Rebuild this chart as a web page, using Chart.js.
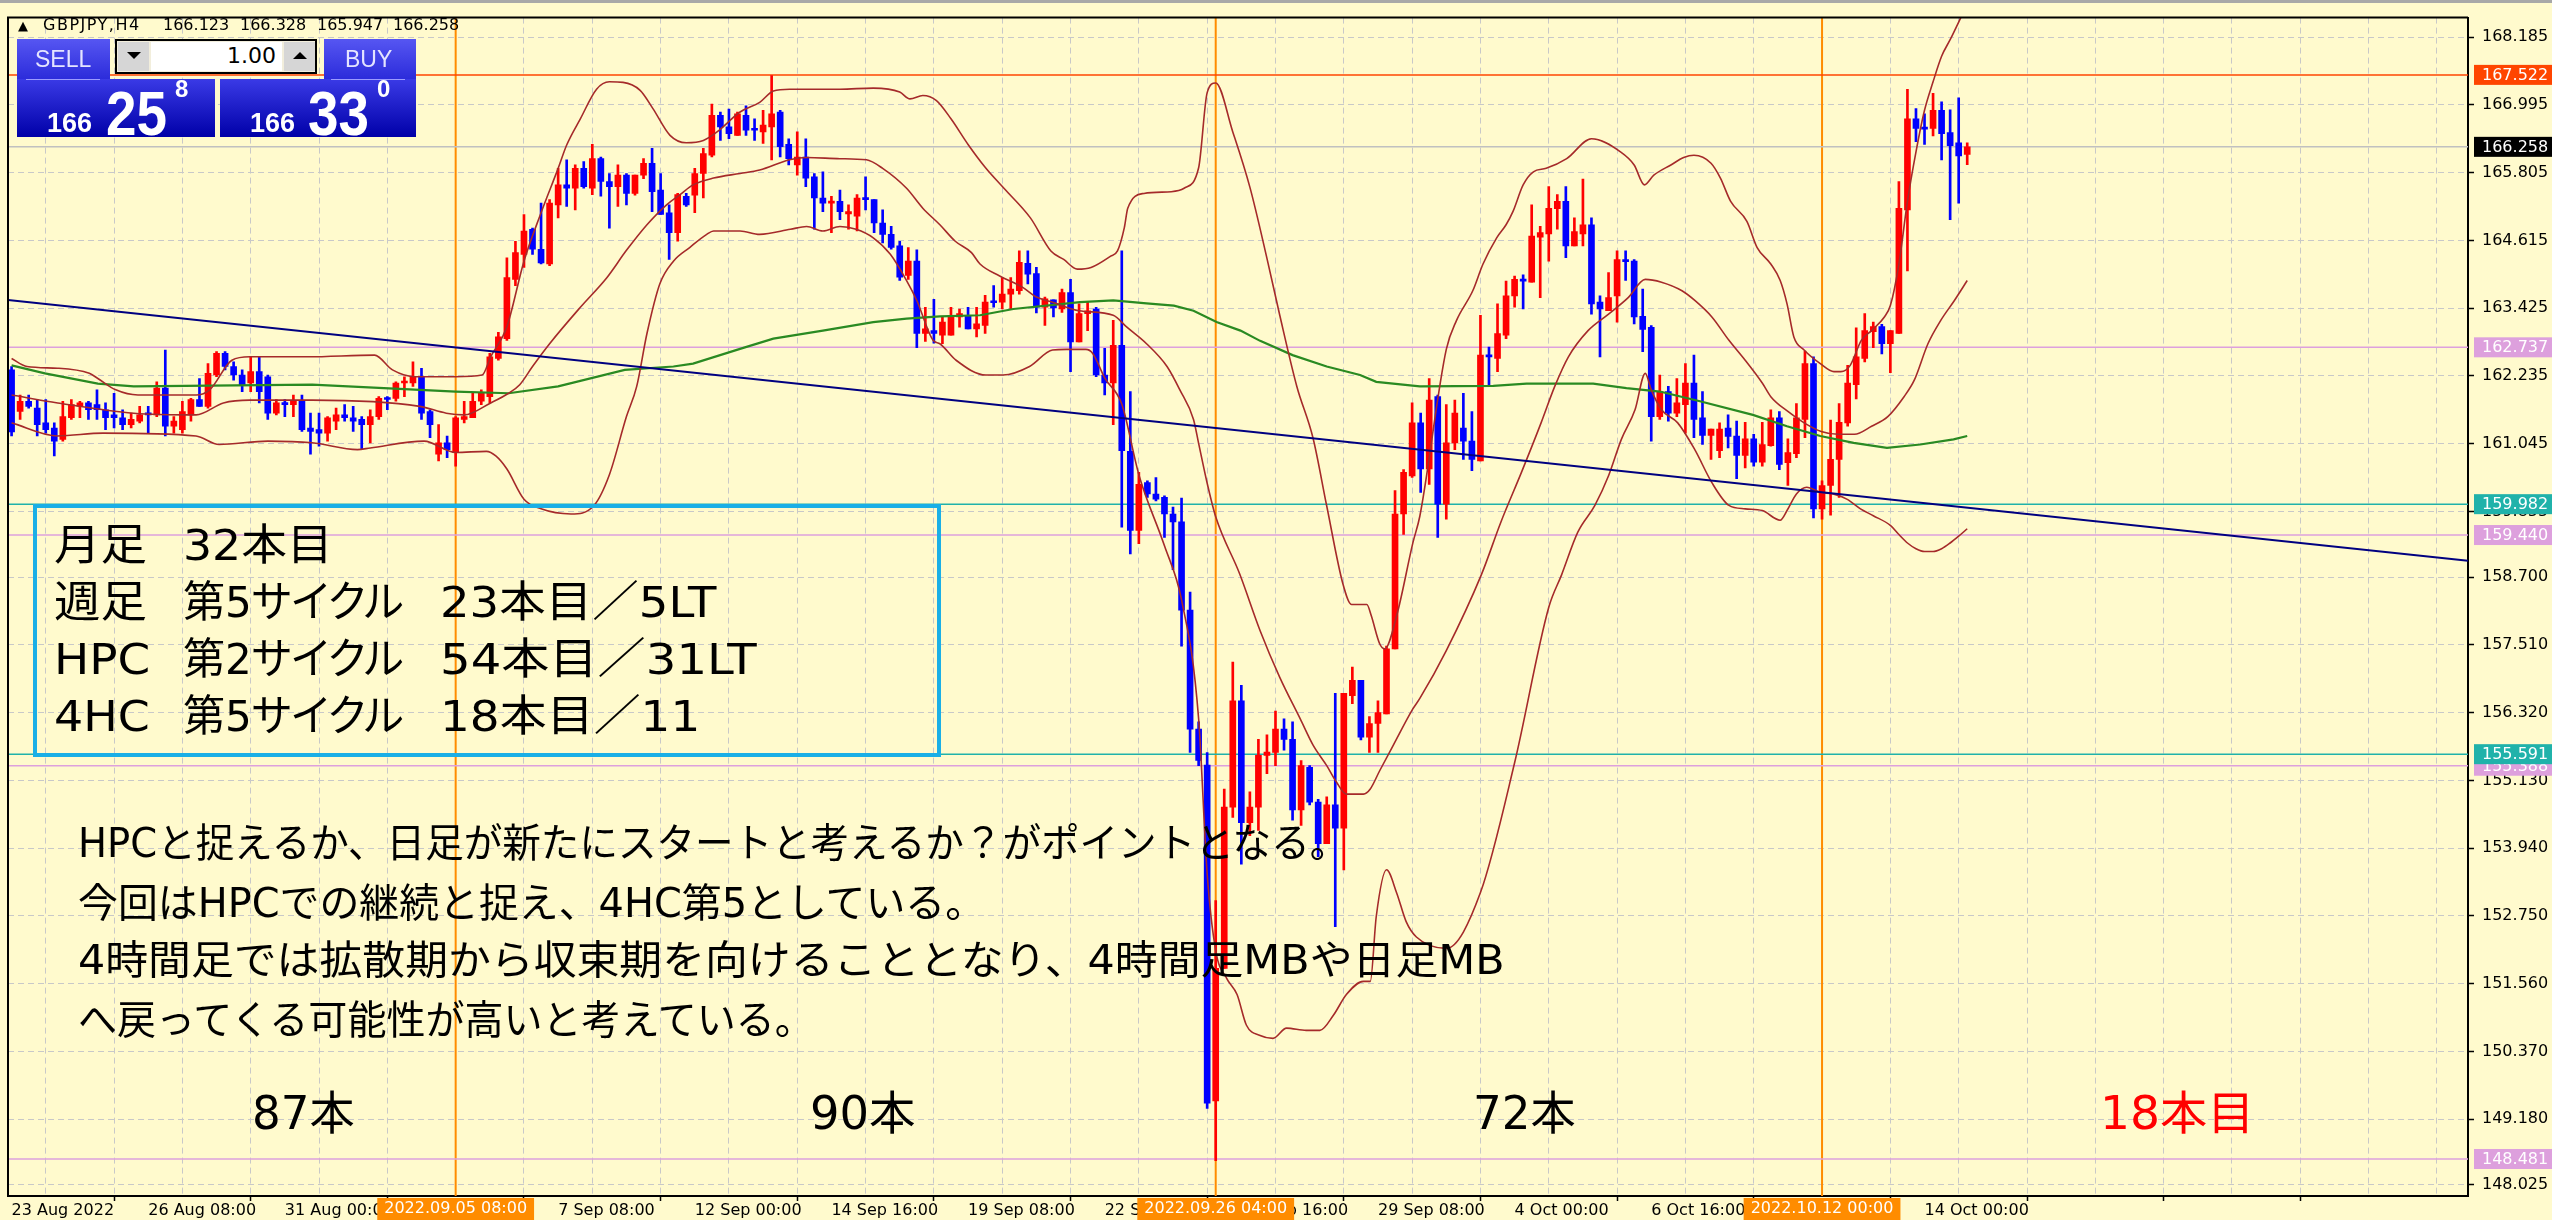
<!DOCTYPE html>
<html>
<head>
<meta charset="utf-8">
<script src="https://cdn.jsdelivr.net/npm/chart.js@4.4.1/dist/chart.umd.min.js"></script>
<style>
  html, body { margin: 0; padding: 0; background: #FFFACD; }
  #wrap { position: relative; width: 2552px; height: 1220px; overflow: hidden; background: #FFFACD; }
  #chart { position: absolute; left: 0; top: 0; }
  .ov { position: absolute; white-space: nowrap; line-height: 1; }
  .hdr { font-family: "DejaVu Sans", sans-serif; font-size: 16px; color: #000; top: 17px; }
  .tab { position: absolute; background: linear-gradient(#5656F2, #2B2BDA); }
  .pricebox { position: absolute; background: linear-gradient(#3A3AE6, #0000A8); }
  .sep { position: absolute; height: 1px; background: #9C9CFF; }
  .btnlbl { font-family: "Liberation Sans", sans-serif; font-size: 23px; color: #E4E4FF; }
  .big { font-family: "Liberation Sans", sans-serif; font-weight: bold; color: #fff; }
  .jp { font-family: "DejaVu Sans", "Noto Sans CJK JP", sans-serif; color: #000; transform-origin: 0 0; }
  .pk { font-feature-settings: "palt"; }
</style>
</head>
<body>
<div id="wrap">
  <canvas id="chart" width="2552" height="1220"></canvas>
  <div style="position:absolute;left:0;top:0;width:2552px;height:3px;background:#A8A8A8;"></div>

  <!-- header line -->
  <div class="ov hdr" style="left:18px;font-size:13px;top:19px;">▲</div>
  <div class="ov hdr" style="left:43px;letter-spacing:1.5px;">GBPJPY,H4</div>
  <div class="ov hdr" style="left:163px;">166.123</div>
  <div class="ov hdr" style="left:240px;">166.328</div>
  <div class="ov hdr" style="left:317px;">165.947</div>
  <div class="ov hdr" style="left:393px;">166.258</div>

  <!-- one click trading panel -->
  <div class="tab" style="left:17px;top:39px;width:93px;height:41px;"></div>
  <div class="pricebox" style="left:17px;top:79px;width:198px;height:58px;"></div>
  <div class="sep" style="left:26px;top:79px;width:74px;"></div>
  <div class="ov btnlbl" style="left:35px;top:48px;">SELL</div>
  <div class="ov big" style="left:47px;top:110px;font-size:27px;">166</div>
  <div class="ov big" style="left:106px;top:82px;font-size:63px;transform:scaleX(0.87);transform-origin:0 0;">25</div>
  <div class="ov big" style="left:175px;top:77px;font-size:24px;">8</div>

  <div class="tab" style="left:324px;top:39px;width:92px;height:41px;"></div>
  <div class="pricebox" style="left:220px;top:79px;width:196px;height:58px;"></div>
  <div class="sep" style="left:331px;top:79px;width:74px;"></div>
  <div class="ov btnlbl" style="left:345px;top:48px;">BUY</div>
  <div class="ov big" style="left:250px;top:110px;font-size:27px;">166</div>
  <div class="ov big" style="left:308px;top:82px;font-size:63px;transform:scaleX(0.87);transform-origin:0 0;">33</div>
  <div class="ov big" style="left:377px;top:77px;font-size:24px;">0</div>

  <div style="position:absolute;left:115px;top:39px;width:198px;height:31px;border:2px solid #000;background:#F2EEDC;"></div>
  <div style="position:absolute;left:118px;top:42px;width:31px;height:29px;background:#D6D6D6;"></div>
  <div style="position:absolute;left:127px;top:52px;width:0;height:0;border-left:7px solid transparent;border-right:7px solid transparent;border-top:7px solid #000;"></div>
  <div style="position:absolute;left:151px;top:42px;width:131px;height:29px;background:#fff;"></div>
  <div style="position:absolute;left:284px;top:42px;width:31px;height:29px;background:#D6D6D6;"></div>
  <div style="position:absolute;left:293px;top:52px;width:0;height:0;border-left:7px solid transparent;border-right:7px solid transparent;border-bottom:7px solid #000;"></div>
  <div class="ov" style="left:151px;width:125px;top:45px;text-align:right;font-family:'DejaVu Sans',sans-serif;font-size:22px;color:#000;">1.00</div>

  <!-- cycle count box -->
  <div style="position:absolute;left:33px;top:504px;width:900px;height:245px;border:4px solid #1AAFE6;"></div>
  <div class="ov jp pk" data-w="93"  style="left:54px;top:524px;font-size:43px;">月足</div>
  <div class="ov jp pk" data-w="150" style="left:183px;top:524px;font-size:43px;">32本目</div>
  <div class="ov jp pk" data-w="93"  style="left:54px;top:581px;font-size:43px;">週足</div>
  <div class="ov jp pk" data-w="221" style="left:183px;top:581px;font-size:43px;">第5サイクル</div>
  <div class="ov jp pk" data-w="276" style="left:440px;top:581px;font-size:43px;">23本目／5LT</div>
  <div class="ov jp pk" data-w="96"  style="left:54px;top:638px;font-size:43px;">HPC</div>
  <div class="ov jp pk" data-w="221" style="left:183px;top:638px;font-size:43px;">第2サイクル</div>
  <div class="ov jp pk" data-w="317" style="left:440px;top:638px;font-size:43px;">54本目／31LT</div>
  <div class="ov jp pk" data-w="96"  style="left:54px;top:695px;font-size:43px;">4HC</div>
  <div class="ov jp pk" data-w="221" style="left:183px;top:695px;font-size:43px;">第5サイクル</div>
  <div class="ov jp pk" data-w="260" style="left:440px;top:695px;font-size:43px;">18本目／11</div>

  <!-- comments -->
  <div class="ov jp" data-w="1270" style="left:78px;top:823px;font-size:40px;">HPCと捉えるか、日足が新たにスタートと考えるか？がポイントとなる。</div>
  <div class="ov jp" data-w="907"  style="left:78px;top:883px;font-size:40px;">今回はHPCでの継続と捉え、4HC第5としている。</div>
  <div class="ov jp" data-w="1427" style="left:78px;top:940px;font-size:40px;">4時間足では拡散期から収束期を向けることとなり、4時間足MBや日足MB</div>
  <div class="ov jp" data-w="736"  style="left:78px;top:1000px;font-size:40px;">へ戻ってくる可能性が高いと考えている。</div>

  <div class="ov jp" data-w="103" style="left:252px;top:1090px;font-size:46px;">87本</div>
  <div class="ov jp" data-w="106" style="left:810px;top:1090px;font-size:46px;">90本</div>
  <div class="ov jp" data-w="103" style="left:1473px;top:1090px;font-size:46px;">72本</div>
  <div class="ov jp" data-w="155" style="left:2100px;top:1090px;font-size:46px;color:#FF0000;">18本目</div>
</div>

<script>
// GBPJPY H4, bar 0 = 23 Aug 2022 16:00, last bar = 14 Oct 2022 20:00
const opens = [
  162.34,161.61,161.79,161.67,161.41,161.32,161.12,161.50,161.70,161.76,
  161.73,161.64,161.55,161.50,161.38,161.44,161.58,161.55,162.02,161.35,
  161.29,161.55,161.82,161.70,162.25,162.63,162.40,162.25,162.11,162.31,
  162.22,161.58,161.76,161.73,161.79,161.32,161.29,161.23,161.44,161.55,
  161.50,161.47,161.38,161.52,161.84,161.84,162.11,162.11,162.22,161.61,
  160.86,161.06,160.89,161.47,161.50,161.79,161.87,162.54,162.89,163.93,
  164.37,164.81,164.46,164.20,165.24,165.59,165.53,165.88,165.53,166.05,
  165.65,165.56,165.76,165.44,165.76,165.97,165.50,165.10,164.75,165.39,
  165.41,165.79,166.11,166.81,166.61,166.46,166.81,166.58,166.52,166.61,
  166.87,166.30,165.94,166.08,165.73,165.36,165.27,165.30,165.08,165.04,
  165.36,165.33,164.92,164.72,164.52,164.00,164.25,162.98,163.03,162.95,
  162.95,163.27,163.30,163.06,163.12,163.54,163.53,163.67,163.73,164.21,
  164.03,163.44,163.57,163.41,163.70,162.83,163.33,163.41,162.25,162.11,
  162.77,160.91,159.52,160.36,160.16,160.10,159.81,159.67,158.12,156.03,
  155.40,149.50,151.83,154.66,156.53,154.39,154.66,155.57,155.62,156.03,
  155.85,154.61,155.36,154.75,154.02,154.70,154.29,156.62,156.89,155.89,
  156.13,156.30,157.44,159.81,160.48,161.41,160.60,161.87,159.98,161.06,
  161.32,161.09,160.74,162.60,162.54,162.95,163.64,163.93,163.88,164.67,
  164.73,165.17,165.30,164.52,164.73,164.89,163.53,163.38,163.64,164.28,
  164.25,163.28,163.09,161.52,161.96,161.58,161.73,162.11,161.50,161.19,
  160.92,161.32,161.18,160.84,161.13,160.72,161.01,161.50,160.71,160.87,
  161.47,162.45,159.90,160.31,160.77,161.41,162.08,162.54,163.01,163.10,
  162.80,162.98,165.15,166.75,166.59,166.58,166.90,166.51,166.33,166.123
];
const highs = [
  162.40,161.90,161.90,161.82,161.82,161.41,161.79,161.82,161.79,161.79,
  161.99,161.76,161.93,161.64,161.58,161.70,161.70,162.13,162.69,161.52,
  161.79,161.84,162.19,162.45,162.66,162.66,162.48,162.34,162.57,162.57,
  162.25,161.82,161.82,161.90,161.90,161.58,161.58,161.52,161.67,161.73,
  161.70,161.52,161.64,161.87,161.87,162.13,162.22,162.48,162.37,161.64,
  161.38,161.18,161.52,161.79,161.93,161.99,162.63,163.00,164.31,164.60,
  165.07,164.83,165.27,165.33,165.88,166.03,165.94,166.00,166.30,166.08,
  165.79,165.94,165.79,165.76,166.05,166.23,165.79,165.24,165.44,165.44,
  165.88,166.23,167.01,166.87,166.92,166.87,166.98,166.75,166.90,167.51,
  166.90,166.40,166.52,166.40,165.79,165.82,165.39,165.50,165.24,165.42,
  165.73,165.33,165.15,164.86,164.60,164.49,164.45,163.44,163.58,163.27,
  163.44,163.41,163.44,163.44,163.65,163.82,163.96,163.96,164.43,164.43,
  164.14,163.62,163.57,163.76,163.93,163.50,163.53,163.44,162.72,163.21,
  164.43,161.96,160.54,160.39,160.45,160.13,159.93,160.09,158.44,156.16,
  155.62,153.02,154.98,157.21,156.80,154.93,155.85,155.93,156.35,156.21,
  156.16,155.48,155.39,154.80,154.84,156.66,156.66,157.12,156.89,156.25,
  156.53,157.49,160.22,160.59,161.76,161.58,162.19,161.90,161.73,161.81,
  161.93,161.61,163.30,162.74,163.50,163.90,163.99,164.01,165.24,164.86,
  165.56,165.42,165.56,165.01,165.69,165.01,163.64,164.05,164.43,164.43,
  164.28,163.76,163.12,162.25,162.05,162.19,162.45,162.60,161.96,161.30,
  161.41,161.55,161.44,161.42,161.21,161.42,161.64,161.61,161.13,161.75,
  162.67,162.57,160.39,161.46,161.75,162.42,163.08,163.33,163.18,163.14,
  163.03,165.65,167.27,166.93,166.84,167.20,167.05,166.91,167.12,166.328
];
const lows = [
  161.18,161.47,161.67,161.18,161.23,160.83,161.09,161.47,161.50,161.47,
  161.47,161.29,161.32,161.29,161.32,161.41,161.23,161.52,161.18,161.23,
  161.23,161.44,161.70,161.67,162.22,162.34,162.16,161.96,161.96,161.76,
  161.47,161.55,161.52,161.52,161.26,160.86,161.00,161.09,161.29,161.44,
  161.26,160.94,161.06,161.47,161.64,161.79,161.87,162.05,161.47,161.15,
  160.74,160.80,160.65,161.41,161.50,161.73,161.76,162.51,162.86,163.82,
  164.14,164.37,164.20,164.17,165.01,165.21,165.15,165.53,165.42,165.39,
  164.83,165.21,165.24,165.41,165.70,165.12,165.07,164.28,164.60,165.21,
  165.10,165.36,166.08,166.37,166.40,166.46,166.46,166.37,166.32,166.03,
  166.08,165.94,165.76,165.56,164.81,165.12,164.75,164.98,164.81,164.78,
  165.15,164.75,164.57,164.46,163.91,163.93,162.73,162.84,162.81,162.80,
  162.95,163.09,163.06,162.92,162.98,163.44,163.41,163.41,163.67,163.85,
  163.34,163.12,163.27,163.35,162.31,162.83,163.03,162.22,161.90,161.38,
  159.58,159.11,159.29,160.10,160.04,159.40,158.83,157.49,155.62,155.39,
  149.37,148.45,151.83,154.48,153.66,154.16,154.25,155.25,155.39,155.66,
  154.43,154.34,154.70,153.79,154.02,152.56,153.56,156.48,155.84,155.62,
  155.62,156.30,157.44,159.45,160.45,160.19,160.33,159.40,159.72,160.94,
  160.77,160.57,160.74,162.08,162.31,162.89,163.44,163.41,163.88,163.61,
  164.25,164.81,164.31,164.52,164.52,163.32,162.57,163.38,163.18,163.91,
  163.15,162.66,161.09,161.47,161.44,161.52,161.23,161.15,161.03,160.77,
  160.80,160.97,160.43,160.62,160.65,160.65,161.00,160.59,160.31,160.80,
  161.15,159.74,159.72,159.79,160.10,161.35,161.83,162.48,162.73,162.62,
  162.29,162.98,164.08,166.35,166.30,166.45,166.03,164.98,165.27,165.947
];
const closes = [
  161.25,161.79,161.70,161.38,161.29,161.09,161.52,161.73,161.76,161.64,
  161.64,161.50,161.50,161.38,161.47,161.55,161.55,162.02,161.35,161.44,
  161.61,161.82,161.70,162.28,162.63,162.40,162.25,162.08,162.31,161.96,
  161.58,161.76,161.73,161.79,161.29,161.26,161.23,161.50,161.55,161.50,
  161.44,161.38,161.52,161.84,161.82,162.11,162.13,162.22,161.58,161.38,
  161.06,160.94,161.50,161.52,161.79,161.93,162.57,162.92,163.96,164.40,
  164.78,164.46,164.22,165.27,165.59,165.53,165.88,165.56,166.05,165.65,
  165.56,165.76,165.44,165.76,165.97,165.47,165.07,164.75,165.42,165.24,
  165.79,166.14,166.81,166.61,166.49,166.84,166.55,166.55,166.64,166.84,
  166.26,166.05,166.08,165.71,165.36,165.27,165.30,165.12,165.12,165.36,
  165.33,164.92,164.72,164.49,163.97,164.25,162.98,163.06,162.98,163.18,
  163.30,163.33,163.06,163.15,163.53,163.52,163.67,163.76,164.23,164.02,
  163.44,163.59,163.43,163.70,162.83,163.33,163.38,162.25,162.11,162.77,
  160.92,159.52,160.33,160.16,160.07,159.81,159.67,158.12,156.03,155.48,
  149.46,151.83,154.66,156.53,154.39,154.66,155.57,155.63,156.03,155.85,
  154.61,155.39,154.75,154.02,154.70,154.29,156.66,156.89,155.89,156.13,
  156.32,157.44,159.81,160.54,161.41,160.60,161.81,159.98,161.06,161.58,
  161.09,160.77,162.60,162.57,162.98,163.64,163.93,163.90,164.69,164.75,
  165.18,165.30,164.52,164.77,164.89,163.50,163.41,163.61,164.28,164.24,
  163.27,163.05,161.52,161.96,161.58,161.76,162.11,161.47,161.19,161.30,
  161.30,161.17,160.84,161.13,160.72,161.03,161.50,160.68,160.89,161.50,
  162.45,159.90,160.31,160.77,161.42,162.11,162.57,163.03,163.10,162.80,
  163.03,165.18,166.75,166.58,166.57,166.90,166.49,166.28,166.10,166.258
];

// x tick labels every 16 bars
const timeLabels = ['23 Aug 2022','26 Aug 08:00','31 Aug 00:00','2 Sep 16:00','7 Sep 08:00',
  '12 Sep 00:00','14 Sep 16:00','19 Sep 08:00','22 Sep 00:00','26 Sep 16:00','29 Sep 08:00',
  '4 Oct 00:00','6 Oct 16:00','11 Oct 08:00','14 Oct 00:00'];
const yTickValues = [168.185,166.995,165.805,164.615,163.425,162.235,161.045,159.855,158.700,
  157.510,156.320,155.130,153.940,152.750,151.560,150.370,149.180,148.025];

// 4H Bollinger band lines (bar position, price)
const upperX = [0,1.8,5.4,9.1,10.1,12.2,14.8,21.6,23.2,25.8,27.9,34.7,42.5,44.6,47.3,52,55.1,56.1,58,60,62,64,65,66.6,68.5,70,71.6,73.6,75.1,77.1,79,81,82.6,85.3,87.6,89.2,91.1,97,100.9,104,105.2,106.7,108.3,110,112,114,116.2,119.3,121.7,123.2,124.8,126.4,128.7,129.5,130.3,130.7,132.6,135.8,137.3,139,140,141,143,145,147,148.5,150.5,152.4,154,155.9,156.9,158.7,159.2,160.2,160.8,162.2,164.1,164.9,168,169.2,171.1,172.3,173.9,175,175.8,177,178.2,179.7,182.1,185,188.4,190,191.2,192.3,194.3,195.8,197,199,200.1,201.3,203.2,204.4,206,207.1,207.9,208.7,209.9,211.8,213.4,214.2,215.3,216.6,217.8,219.3,220,221,222,223,224,225,226,227,228,229];
const upperY = [162.54,162.40,162.37,162.28,162.19,161.99,161.90,161.90,161.99,162.51,162.57,162.57,162.60,162.34,162.22,162.22,162.25,162.57,163.10,164.25,165.10,165.88,166.29,166.75,167.27,167.40,167.39,167.25,166.93,166.46,166.33,166.37,166.52,166.87,167.04,167.24,167.27,167.27,167.29,167.22,167.10,167.16,167.07,166.75,166.30,165.90,165.53,165.01,164.43,164.28,164.11,164.14,164.34,164.43,164.84,165.18,165.44,165.47,165.53,165.89,167.21,167.38,166.52,165.55,164.30,163.30,162.05,161.14,159.95,158.58,158.22,158.22,158.03,157.53,157.44,158.03,159.31,159.77,162.70,163.21,163.73,164.20,164.66,164.89,165.12,165.59,165.82,165.88,166.05,166.40,166.17,165.94,165.59,165.76,165.94,166.07,166.11,165.97,165.71,165.30,164.95,164.49,164.20,163.91,163.50,162.92,162.69,162.45,162.31,162.31,162.42,162.86,163.03,163.27,163.47,164.20,165.30,166.17,166.90,167.40,167.85,168.14,168.45,168.77];
const middleX = [0,5.4,14.3,21.6,24.8,27.9,35.2,47.8,50.9,53,56.1,58.2,59.5,61,63,66.6,69.7,72,74.4,76.7,78.2,79.8,82.2,85.3,87.6,91.1,93.1,97,100.1,102,104.8,106.7,108.7,110.5,112.4,113.4,115.7,118.4,120,121.9,125,129,130.6,132.9,135.3,136.8,138.4,139,140,141,143.8,146.2,148.5,150.9,152.4,154,155.1,156.3,158.3,159.1,160.2,161.8,164.1,164.9,168,172.1,174.4,176.8,179.1,180.7,182.3,184.6,187,189.3,191.3,193.2,195.6,197.1,199.1,201.1,203,205,206,208,209.9,211.9,213.9,215.8,217.8,219.7,221.6,222.8,224.4,225.9,227.5,229];
const middleY = [161.90,161.76,161.58,161.55,161.76,161.81,161.81,161.70,161.58,161.55,161.76,161.93,162.08,162.40,162.80,163.44,163.96,164.44,164.89,165.24,165.41,165.59,165.71,165.79,165.85,166.03,166.07,166.05,166.03,165.88,165.53,165.18,164.89,164.60,164.40,164.20,163.99,163.79,163.62,163.53,163.38,163.30,163.09,162.80,162.40,161.99,161.47,161.05,160.35,159.76,158.76,157.76,156.94,156.21,155.75,155.39,155.11,154.89,154.89,154.98,155.30,155.75,156.39,156.57,157.41,158.74,159.67,160.54,161.41,162.05,162.57,163.03,163.32,163.61,163.93,163.88,163.73,163.56,163.27,162.86,162.51,162.11,161.87,161.61,161.41,161.26,161.21,161.21,161.35,161.52,161.87,162.16,162.80,163.21,163.56,163.91];
const lowerX = [0,5.4,10.7,21.6,24.3,30,35.2,40.5,42,48.3,52,55.6,56.7,58,60,62,65.5,68.2,70,72,73.2,74.4,75.9,77.5,79.4,81.4,82.2,85.3,87.6,91.2,93.1,95,97,98.9,100.9,102.9,104.8,106,107.9,108.7,110.6,114.1,116.1,119.2,121.9,123.5,125.8,126.6,128,130,132,135,137,139,140,141,142.3,143.5,144.6,146.2,147.7,149.3,151.6,153.2,154.8,156.3,158.3,159.1,159.8,161,162.2,163.3,164.5,168,172,176,180,181.5,183.4,185.4,187,188.5,190.1,191.3,192,193.2,195.1,197.1,199.1,201.1,203,205,207.1,207.9,209,210.2,211.8,213.3,214.9,216.5,218,220,221,222,223,224,225,226,227,228,229];
const lowerY = [161.41,161.18,161.23,161.18,161.03,161.09,161.06,160.94,160.97,161.09,160.89,160.91,160.83,160.60,160.07,159.90,159.81,159.96,160.50,161.52,162.05,162.98,163.85,164.25,164.49,164.72,164.78,164.78,164.72,164.81,164.86,164.78,164.86,164.81,164.66,164.37,163.91,163.56,162.86,162.80,162.51,162.25,162.25,162.40,162.69,162.70,162.70,162.63,162.20,161.74,160.50,159.25,158.30,156.21,153.49,152.14,151.65,151.37,150.83,150.65,150.60,150.78,150.74,150.74,151.01,151.37,151.60,151.60,152.74,153.56,153.15,152.65,152.38,152.18,153.16,155.44,158.17,158.74,159.49,159.96,160.48,161.12,161.64,162.28,161.99,161.64,161.41,160.94,160.36,159.96,159.90,159.87,159.70,159.87,160.16,160.28,160.19,160.16,160.07,159.90,159.78,159.61,159.45,159.30,159.20,159.15,159.15,159.20,159.30,159.42,159.55];
// daily middle band (green)
const dailyMbX = [0,3.9,10.1,14.3,35.2,52,58.2,64,71.8,77.5,79.8,85.3,89.2,95,100.9,104.8,108.7,113.4,117.3,125.1,129,132.9,136.1,138.4,141.1,143.9,146.2,150,154,157.9,159.8,164.9,173.5,177.4,185.2,189.1,193,197.7,203.9,207.9,211.8,215.7,219.6,223.5,227.4,229];
const dailyMbY = [162.42,162.28,162.10,162.05,162.08,161.96,161.93,162.05,162.34,162.40,162.45,162.71,162.89,163.03,163.18,163.24,163.28,163.30,163.41,163.53,163.56,163.51,163.47,163.38,163.18,163.03,162.85,162.60,162.40,162.25,162.13,162.05,162.06,162.10,162.10,162.02,161.96,161.79,161.55,161.35,161.18,161.06,160.97,161.03,161.12,161.18];
// trendline end points
const trendX = [-0.42, 287.64];
const trendY = [163.57, 158.99];

// horizontal price lines and their axis labels
const hLineValues = [155.388, 148.481, 162.737, 159.440, 167.522, 159.982, 155.591, 166.258];
const hLineColors = ['#DDA0DD','#DDA0DD','#DDA0DD','#DDA0DD','#FF4500','#20B2AA','#20B2AA','#C0C0C0'];
const hLabelBg    = ['#DDA0DD','#DDA0DD','#DDA0DD','#DDA0DD','#FF4500','#20B2AA','#20B2AA','#000000'];
// vertical period lines
const vLineBars = [52, 141, 212];
const vLineLabels = ['2022.09.05 08:00', '2022.09.26 04:00', '2022.10.12 00:00'];

const pts = (xs, ys) => xs.map((x, k) => ({ x: x, y: ys[k] }));
const idx = opens.map((_, i) => i);
const candleColors = idx.map(i => closes[i] >= opens[i] ? '#FF0000' : '#0000FF');

const datasets = [
  { type: 'line', data: pts(trendX, trendY), borderColor: '#000080', borderWidth: 2, pointRadius: 0, order: 1 },
  { type: 'line', data: pts(upperX, upperY), borderColor: '#A52A2A', borderWidth: 1.6, pointRadius: 0, cubicInterpolationMode: 'monotone', order: 2 },
  { type: 'line', data: pts(middleX, middleY), borderColor: '#A52A2A', borderWidth: 1.6, pointRadius: 0, cubicInterpolationMode: 'monotone', order: 2 },
  { type: 'line', data: pts(lowerX, lowerY), borderColor: '#A52A2A', borderWidth: 1.6, pointRadius: 0, cubicInterpolationMode: 'monotone', order: 2 },
  { type: 'line', data: pts(dailyMbX, dailyMbY), borderColor: '#2A8A22', borderWidth: 2.2, pointRadius: 0, order: 2 },
  { type: 'bar', data: idx.map(i => ({ x: i, y: [lows[i], highs[i]] })), backgroundColor: candleColors,
    barThickness: 2, grouped: false, order: 6 },
  { type: 'bar', data: idx.map(i => ({ x: i, y: [opens[i], closes[i]] })), backgroundColor: candleColors,
    barThickness: 6, minBarLength: 2, grouped: false, order: 5 }
];
hLineValues.forEach((v, k) => {
  datasets.push({ type: 'line', data: [{ x: -1, y: v }, { x: 290, y: v }], borderColor: hLineColors[k],
    borderWidth: 1.5, pointRadius: 0, order: 10 });
});
vLineBars.forEach(b => {
  datasets.push({ type: 'line', data: [{ x: b, y: 140 }, { x: b, y: 175 }], borderColor: '#FF8C00',
    borderWidth: 2, pointRadius: 0, order: 10 });
});

const mtOverlay = {
  id: 'mtOverlay',
  afterDraw(chart) {
    const { ctx, chartArea: a, scales: { x, y } } = chart;
    ctx.save();
    // chart frame
    ctx.strokeStyle = '#000';
    ctx.lineWidth = 2;
    ctx.beginPath();
    ctx.moveTo(a.left, a.bottom);
    ctx.lineTo(a.left, a.top);
    ctx.lineTo(a.right, a.top);
    ctx.stroke();

    // price labels on the right axis
    ctx.font = '16px "DejaVu Sans"';
    ctx.textBaseline = 'middle';
    ctx.textAlign = 'left';
    hLineValues.forEach((v, k) => {
      const py = y.getPixelForValue(v);
      ctx.fillStyle = hLabelBg[k];
      ctx.fillRect(a.right + 6, py - 10, 2552 - a.right - 6, 20);
      ctx.fillStyle = '#FFFFFF';
      ctx.fillText(v.toFixed(3), a.right + 14, py + 1);
    });

    // date labels of the vertical lines
    ctx.textAlign = 'center';
    vLineBars.forEach((b, k) => {
      const px = x.getPixelForValue(b);
      const w = ctx.measureText(vLineLabels[k]).width + 14;
      ctx.fillStyle = '#FF8C00';
      ctx.fillRect(px - w / 2, a.bottom + 2, w, 22);
      ctx.fillStyle = '#FFFFFF';
      ctx.fillText(vLineLabels[k], px, a.bottom + 13);
    });
    ctx.restore();
  }
};

Chart.defaults.font.family = '"DejaVu Sans", sans-serif';
Chart.defaults.font.size = 16;
Chart.defaults.color = '#000';

new Chart(document.getElementById('chart'), {
  type: 'bar',
  data: { datasets: datasets },
  options: {
    responsive: false,
    devicePixelRatio: 1,
    animation: false,
    events: [],
    layout: { padding: { left: 8, top: 8, right: 0, bottom: 0 } },
    plugins: { legend: { display: false }, tooltip: { enabled: false } },
    scales: {
      x: {
        type: 'linear', min: -0.42, max: 287.64, offset: false,
        afterBuildTicks: s => { s.ticks = []; for (let v = 0; v <= 280; v += 8) s.ticks.push({ value: v }); },
        afterFit: s => { s.height = 24; },
        grid: {
          color: c => (c.tick && c.tick.value === 0) ? 'rgba(0,0,0,0)' : '#C8C8C8',
          lineWidth: 1, tickLength: 5, tickWidth: 1.5,
          tickColor: c => (c.tick && c.tick.value % 16 === 0) ? '#000' : 'rgba(0,0,0,0)'
        },
        border: { display: true, color: '#000', width: 2, dash: [6, 4] },
        ticks: {
          autoSkip: false, maxRotation: 0, align: 'start', padding: 0, color: '#000',
          font: { size: 16 },
          callback: v => (v % 16 === 0 && v / 16 < timeLabels.length) ? timeLabels[v / 16] : ''
        }
      },
      y: {
        type: 'linear', position: 'right', min: 147.831, max: 168.528,
        afterBuildTicks: s => { s.ticks = yTickValues.map(v => ({ value: v })); },
        afterFit: s => { s.width = 84; },
        grid: { color: '#C8C8C8', lineWidth: 1, tickLength: 6, tickColor: '#000', tickWidth: 1.5 },
        border: { display: true, color: '#000', width: 2, dash: [6, 4] },
        ticks: { autoSkip: false, padding: 8, color: '#000', font: { size: 16 }, callback: v => v.toFixed(3) }
      }
    }
  },
  plugins: [mtOverlay]
});

// fit the annotation texts to the widths they take in the screenshot
function fitTexts() {
  document.querySelectorAll('[data-w]').forEach(el => {
    el.style.transform = 'none';
    const k = Number(el.dataset.w) / el.offsetWidth;
    el.style.transform = 'scaleX(' + k.toFixed(3) + ')';
  });
}
fitTexts();
if (document.fonts && document.fonts.ready) document.fonts.ready.then(fitTexts);
</script>
</body>
</html>
